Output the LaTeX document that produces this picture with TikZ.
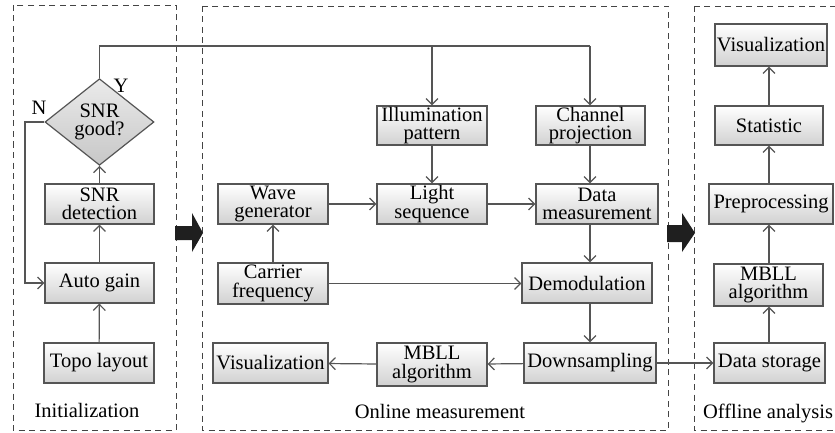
\documentclass[tikz,border=0pt]{standalone}
\usepackage{fontspec}
\setmainfont{Liberation Serif}
\usetikzlibrary{arrows.meta,shapes.geometric}
\definecolor{lin}{HTML}{555555}
\definecolor{frm}{HTML}{444444}
\tikzset{
  x=1pt,y=-1pt,
  box/.style={draw=lin,line width=1.2pt,top color=white,bottom color=black!18,
    inner sep=0pt,align=center,font=\fontsize{20.5}{18.5}\selectfont},
  dia/.style={diamond,draw=lin,line width=1.2pt,top color=black!8,bottom color=black!22,
    inner sep=0pt,align=center,minimum width=109pt,minimum height=70pt,
    font=\fontsize{20.5}{18.5}\selectfont},
  conn/.style={draw=lin,line width=1.2pt,-{Straight Barb[length=6pt,width=12pt]}},
  plain/.style={draw=lin,line width=1.2pt},
  frame/.style={draw=frm,line width=0.9pt,dash pattern=on 6pt off 4.5pt},
  lab/.style={font=\fontsize{20.5}{18.5}\selectfont,inner sep=0pt},
  big/.style={fill=black!88,draw=none},
}
\newcommand{\bx}[5]{\node[box,minimum width=#3pt,minimum height=#4pt] (#1) at (#2) {#5};}
\begin{document}
\begin{tikzpicture}
\useasboundingbox (0,0) rectangle (835,433);
% frames
\draw[frame] (13,5) rectangle (176,430);
\draw[frame] (202,6) rectangle (668,430);
\draw[frame] (694,6) rectangle (845,430);
\node[lab] (l1) at (87,410) {Initialization};
\node[lab] (l2) at (440,411) {Online measurement};
\node[lab] (l3) at (768,413) {Offline analysis};
% big arrows
\fill[big] (175,226) -- (192,226) -- (192,213) -- (203,233) -- (192,252) -- (192,240) -- (175,240) -- cycle;
\fill[big] (667,225) -- (682,225) -- (682,213) -- (695,233) -- (682,252) -- (682,242) -- (667,242) -- cycle;
% left column
\bx{topo}{99,363}{110}{40}{Topo layout}
\bx{auto}{99.5,283}{109}{40}{Auto gain}
\bx{snrdet}{99.5,204}{109}{40}{SNR\\detection}
\node[dia] (good) at (99.5,122) {SNR\\good?};
% middle
\bx{illum}{432,125.5}{110}{39}{Illumination\\pattern}
\bx{light}{432,204}{110}{40}{Light\\sequence}
\bx{wave}{273,204}{110}{40}{Wave\\generator}
\bx{carrier}{273,283.5}{110}{41}{Carrier\\frequency}
\bx{visa}{270.5,363}{115}{40}{Visualization}
\bx{mblla}{432,364.5}{110}{43}{MBLL\\algorithm}
\bx{chan}{590.5,125.5}{109}{39}{Channel\\projection}
\bx{datam}{597,204}{122}{40}{Data\\measurement}
\bx{demod}{587,283}{130}{40}{Demodulation}
\bx{down}{590,363}{132}{40}{Downsampling}
% right
\bx{visb}{771,45}{112}{42}{Visualization}
\bx{stat}{769,125.5}{108}{39}{Statistic}
\bx{prep}{771,204}{124}{40}{Preprocessing}
\bx{mbllb}{768.5,285}{109}{42}{MBLL\\algorithm}
\bx{store}{769.5,363}{111}{40}{Data storage}
% coordinates
\coordinate (tl) at (99.5,46);
\coordinate (tm) at (432,46);
\coordinate (tr) at (590,46);
\coordinate (nl) at (25,122);
\coordinate (nb) at (25,283);
% connectors left
\draw[conn] (topo) -- (auto);
\draw[conn] (auto) -- (snrdet);
\draw[conn] (snrdet) -- (good);
\draw[plain] (good.north) -- (tl) -- (tr);
\draw[conn] (tr) -- (tr |- chan.north);
\draw[conn] (tm) -- (illum.north);
\draw[conn] (good.west) -- (nl) -- (nb) -- (auto.west);
\node[lab] (ylab) at (121,86) {Y};
\node[lab] (nlab) at (39,108) {N};
% connectors middle
\draw[conn] (illum) -- (light);
\draw[conn] (wave) -- (light);
\draw[conn] (light.east) -- (datam.west |- light.east);
\draw[conn] (chan.south -| tr) -- (datam.north -| tr);
\draw[conn] (carrier) -- (wave);
\draw[conn] (carrier.east) -- (demod.west |- carrier.east);
\draw[conn] (datam.south -| tr) -- (demod.north -| tr);
\draw[conn] (demod.south -| tr) -- (down.north -| tr);
\draw[conn] (down) -- (mblla);
\draw[conn] (mblla) -- (visa);
\draw[conn] (down.east) -- (store.west |- down.east);
% right
\draw[conn] (store.north -| stat) -- (mbllb.south -| stat);
\draw[conn] (mbllb.north -| stat) -- (prep.south -| stat);
\draw[conn] (prep.north -| stat) -- (stat.south);
\draw[conn] (stat.north) -- (visb.south -| stat);
\end{tikzpicture}
\end{document}
